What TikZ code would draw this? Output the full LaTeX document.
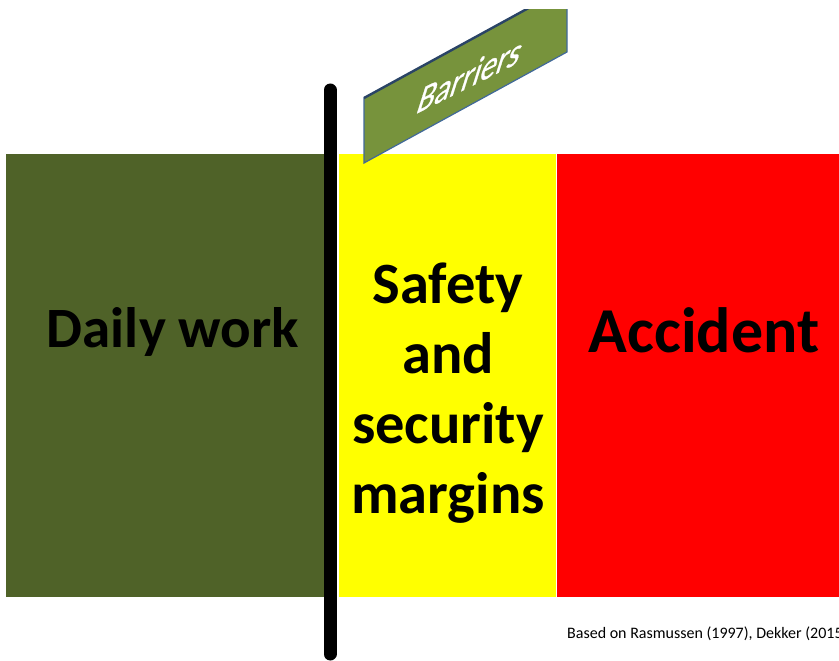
\documentclass[tikz,border=0pt]{standalone}
\usepackage{fontspec}
\setmainfont{Carlito}
\newfontfamily\signfont[FakeBold=0.7]{Carlito}
\definecolor{dailygreen}{HTML}{4F6228}
\definecolor{marginyellow}{HTML}{FFFF00}
\definecolor{accidentred}{HTML}{FF0000}
\definecolor{signgreen}{HTML}{77933C}
\definecolor{signblue}{HTML}{41699A}
\definecolor{signdark}{HTML}{2A4466}
\tikzset{%
  zone/.style={fill=#1,draw=none},
  zone label/.style={font=\bfseries\fontsize{#1}{70}\selectfont,
    text=black,align=center,inner sep=0pt},
  pole/.style={line width=13pt,line cap=round,draw=black},
  sign/.style={fill=signgreen,draw=signblue,line width=1.2pt,line join=miter},
  sign edge/.style={draw=signdark,line width=2.4pt},
  % text sheared along the sign
  sign text/.style={text=white,font=\signfont\fontsize{42}{42}\selectfont,inner sep=0pt,
    cm={0.77,0.385,0.315,0.99,(0,0)}},
  note/.style={font=\fontsize{16}{19}\selectfont,text=black,inner sep=0pt},
}
\begin{document}
\begin{tikzpicture}[x=1pt,y=-1pt]
  \useasboundingbox (0,0) rectangle (839,661);
  \clip (0,10) rectangle (839,661);
  % the three zones
  \path[zone=dailygreen] (6,154) rectangle (330,597);
  \path[zone=marginyellow] (339,154) rectangle (556,597);
  \path[zone=accidentred] (557,154) rectangle (839,597);
  \node[zone label=57,anchor=base] (daily) at (173,347) {Daily work};
  \node[zone label=58.5] (margins) at (448,393) {Safety\\and\\security\\margins};
  \node[zone label=64,anchor=base] (accident) at (704,352) {Accident};
  % the barrier pole
  \draw[pole] (330,90) coordinate (pole top) -- (330,654) coordinate (pole foot);
  % the sign
  \coordinate (sign bl) at (364,163);
  \coordinate (sign tl) at (364,98);
  \coordinate (sign tr) at (567,-13);
  \coordinate (sign br) at (567,52);
  \filldraw[sign] (sign bl) -- (sign tl) -- (sign tr) -- (sign br) -- cycle;
  \draw[sign edge] (sign tl) -- (sign tr);
  \node[sign text,anchor=base] (barriers) at (466,89) {Barriers};
  \node[note,anchor=base west] (source) at (567,638) {Based on Rasmussen (1997), Dekker (2015)};
\end{tikzpicture}
\end{document}
